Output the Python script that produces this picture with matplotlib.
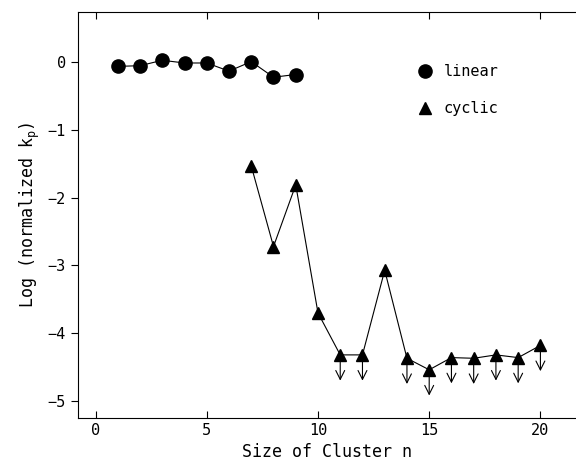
import matplotlib
matplotlib.use('Agg')
import matplotlib.pyplot as plt

plt.rcParams['font.family'] = ['DejaVu Sans Mono']

linear_n = [1, 2, 3, 4, 5, 6, 7, 8, 9]
linear_k = [-0.06, -0.05, 0.03, -0.01, -0.01, -0.13, 0.01, -0.22, -0.18]

cyclic_n = [7, 8, 9, 10, 11, 12, 13, 14, 15, 16, 17, 18, 19, 20]
cyclic_k = [-1.53, -2.72, -1.81, -3.70, -4.32, -4.32, -3.07, -4.37, -4.54,
            -4.36, -4.37, -4.32, -4.36, -4.18]
# upper limits (arrow drawn below the point)
upper_limit = [False, False, False, False, True, True, False, True, True,
               True, True, True, True, True]

fig = plt.figure(figsize=(5.76, 4.69), dpi=100)
ax = fig.add_axes([0.135, 0.109, 0.865, 0.865])

ax.plot(linear_n, linear_k, '-', color='black', lw=0.8,
        marker='o', markersize=9.5, label='linear')
ax.plot(cyclic_n, cyclic_k, '-', color='black', lw=0.8,
        marker='^', markersize=8.5, label='cyclic')

for n, k, up in zip(cyclic_n, cyclic_k, upper_limit):
    if up:
        ax.annotate('', xy=(n, k - 0.38), xytext=(n, k - 0.1),
                    arrowprops=dict(arrowstyle='->', color='black', lw=0.8,
                                    mutation_scale=16, shrinkA=0, shrinkB=0))

ax.set_xlim(-0.8, 21.6)
ax.set_ylim(-5.25, 0.74)
ax.set_xticks([0, 5, 10, 15, 20])
ax.set_yticks([0, -1, -2, -3, -4, -5])
ax.tick_params(axis='x', direction='in', top=True, length=5, labelsize=11)
ax.tick_params(axis='y', direction='out', length=5, labelsize=11)
ax.spines['right'].set_visible(False)

ax.set_xlabel('Size of Cluster n', fontsize=12)
ax.set_ylabel('Log (normalized k$_\\mathregular{p}$)', fontsize=12)

ax.legend(loc='upper left', bbox_to_anchor=(0.67, 0.905), frameon=False,
          fontsize=11, handlelength=0, handletextpad=1.2, labelspacing=1.4,
          markerscale=1.0)

fig.savefig('out.png', dpi=100)
